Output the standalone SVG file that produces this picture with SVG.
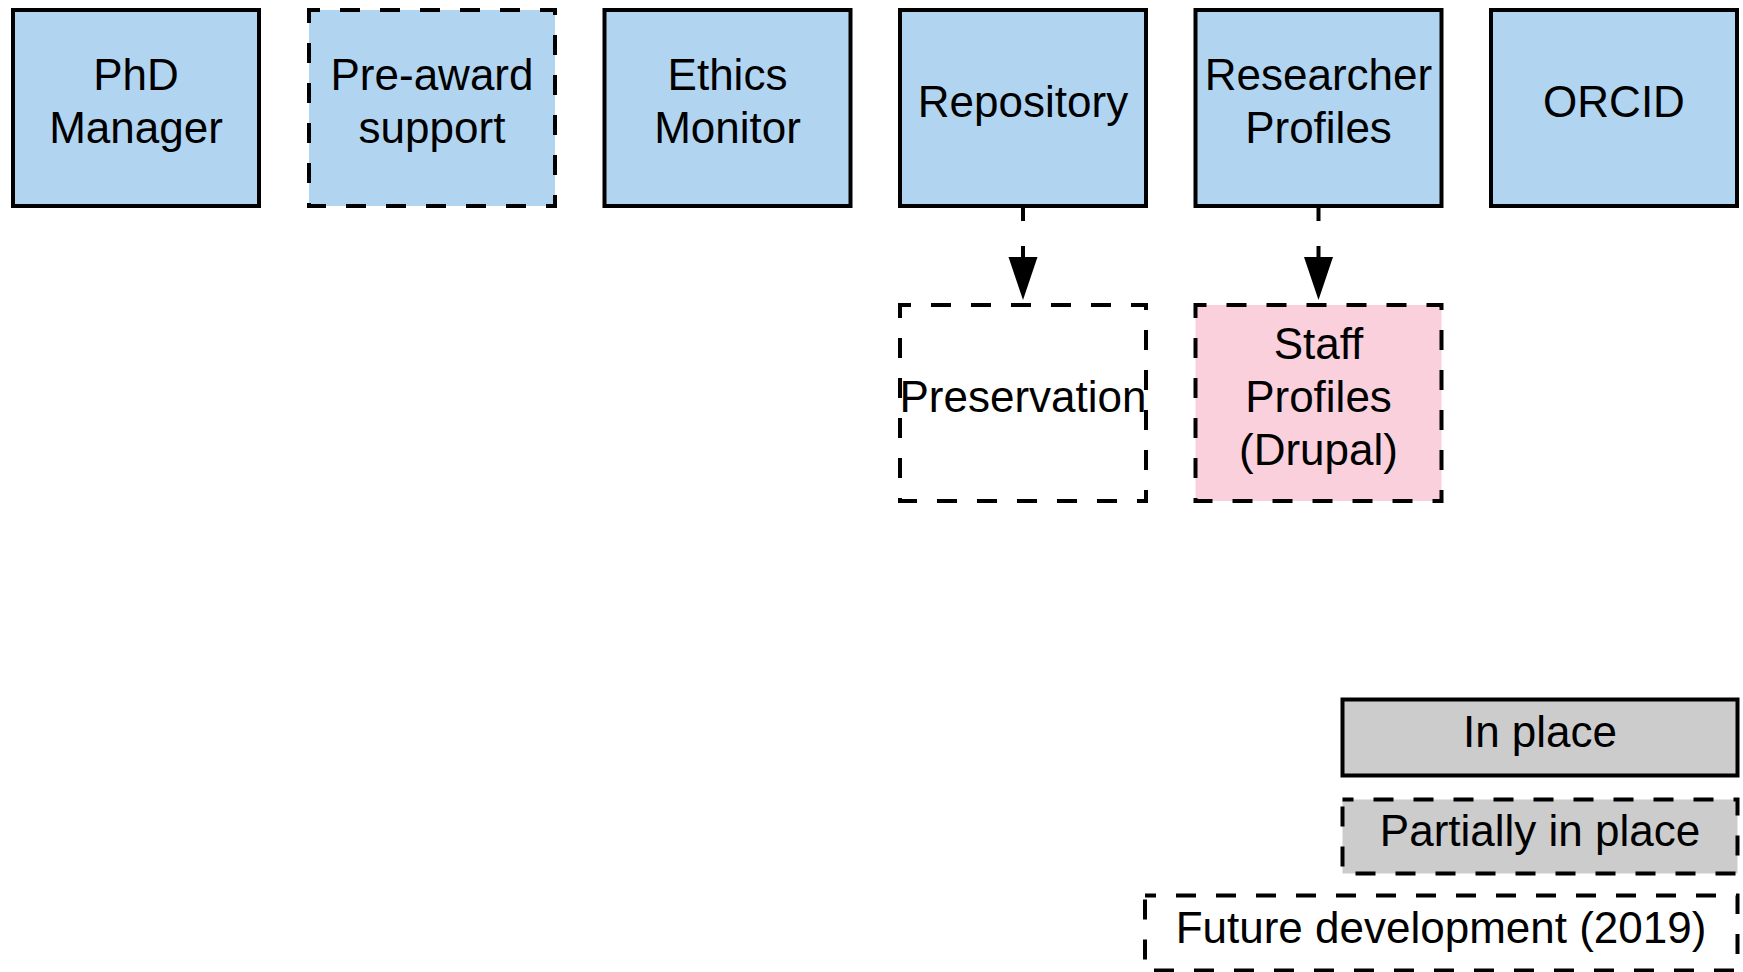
<svg xmlns="http://www.w3.org/2000/svg" width="1743" height="972" viewBox="0 0 1743 972">
  <style>
    .box { stroke: #000000; stroke-width: 4; }
    .dashed { stroke-dasharray: 20 20; stroke-dashoffset: 9; }
    .blue { fill: #B1D5F0; }
    .pink { fill: #F9D0DC; }
    .gray { fill: #CCCCCC; }
    .white { fill: #FFFFFF; }
    .label { font-family: "Liberation Sans", Arial, Helvetica, sans-serif; font-size: 44px; fill: #000000; text-anchor: middle; }
    .edge { stroke: #000000; stroke-width: 4; fill: none; stroke-dasharray: 15 25; }
  </style>
  <defs>
    <marker id="arrow" markerUnits="userSpaceOnUse" markerWidth="44" markerHeight="30" viewBox="0 -15 44 30" refX="0" refY="0" orient="auto">
      <path d="M0,-14.5 L43,0 L0,14.5 Z" fill="#000000"/>
    </marker>
  </defs>
  <rect x="0" y="0" width="1743" height="972" fill="#FFFFFF"/>

  <g id="connectors">
    <line class="edge" x1="1023" y1="206" x2="1023" y2="257" marker-end="url(#arrow)"/>
    <line class="edge" x1="1318.5" y1="206" x2="1318.5" y2="257" marker-end="url(#arrow)"/>
  </g>

  <g id="phd-manager">
    <rect class="box blue" x="13" y="10" width="246" height="196"/>
    <text class="label" x="136" y="89.5">PhD</text>
    <text class="label" x="136" y="142.5">Manager</text>
  </g>
  <g id="pre-award-support">
    <rect class="box blue dashed" x="309" y="10" width="246" height="196"/>
    <text class="label" x="432" y="89.5">Pre-award</text>
    <text class="label" x="432" y="142.5">support</text>
  </g>
  <g id="ethics-monitor">
    <rect class="box blue" x="604.5" y="10" width="246" height="196"/>
    <text class="label" x="727.5" y="89.5">Ethics</text>
    <text class="label" x="727.5" y="142.5">Monitor</text>
  </g>
  <g id="repository">
    <rect class="box blue" x="900" y="10" width="246" height="196"/>
    <text class="label" x="1023" y="116.5">Repository</text>
  </g>
  <g id="researcher-profiles">
    <rect class="box blue" x="1195.5" y="10" width="246" height="196"/>
    <text class="label" x="1318.5" y="89.5">Researcher</text>
    <text class="label" x="1318.5" y="142.5">Profiles</text>
  </g>
  <g id="orcid">
    <rect class="box blue" x="1491" y="10" width="246" height="196"/>
    <text class="label" x="1614" y="116.5">ORCID</text>
  </g>

  <g id="preservation">
    <rect class="box white dashed" x="900" y="305" width="246" height="196"/>
    <text class="label" x="1023" y="412">Preservation</text>
  </g>
  <g id="staff-profiles">
    <rect class="box pink dashed" x="1195.5" y="305" width="246" height="196"/>
    <text class="label" x="1318.5" y="359">Staff</text>
    <text class="label" x="1318.5" y="412">Profiles</text>
    <text class="label" x="1318.5" y="465">(Drupal)</text>
  </g>

  <g id="legend-in-place">
    <rect class="box gray" x="1342.5" y="699.5" width="395" height="76"/>
    <text class="label" x="1540" y="746.5">In place</text>
  </g>
  <g id="legend-partially-in-place">
    <rect class="box gray dashed" x="1342.5" y="799.5" width="395" height="74"/>
    <text class="label" x="1540" y="846">Partially in place</text>
  </g>
  <g id="legend-future-development">
    <rect class="box white dashed" x="1145" y="895.5" width="592.5" height="75"/>
    <text class="label" x="1441" y="943">Future development (2019)</text>
  </g>
</svg>
